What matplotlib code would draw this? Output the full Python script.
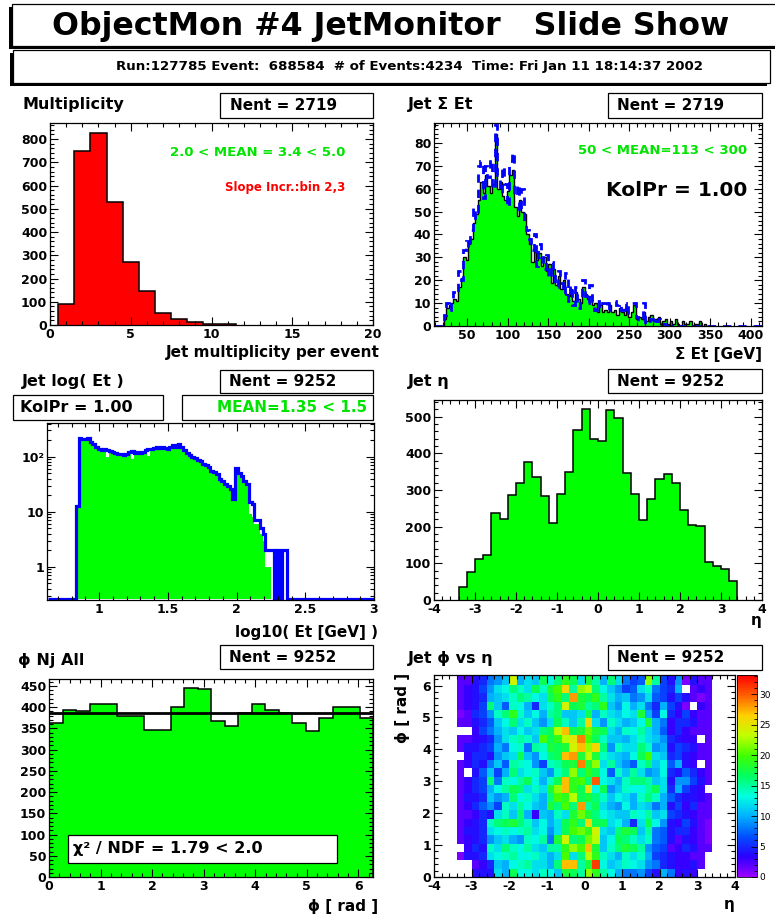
import numpy as np
import matplotlib
matplotlib.use("Agg")
import matplotlib.pyplot as plt
from matplotlib.patches import Rectangle
from matplotlib.colors import LinearSegmentedColormap
from matplotlib.ticker import (MultipleLocator, AutoMinorLocator, FixedLocator,
                               FixedFormatter, LogLocator, NullFormatter, FormatStrFormatter)

plt.rcParams['font.family'] = ['DejaVu Sans']
plt.rcParams['font.weight'] = 'bold'
plt.rcParams['axes.unicode_minus'] = False

W, H = 775, 918
GREEN = '#00ff00'
TEXT_GREEN = '#00e400'

# ---- data ----
# jet multiplicity, bins of 1 starting at 0.5
mult_counts = [90, 750, 825, 528, 272, 148, 53, 25, 12, 5, 3]
mult_first_edge = 0.5

# sum Et, 3 GeV bins starting at 18 GeV (this run and reference)
sumet_first_edge = 18
sumet_width = 3
sumet_counts = [0, 3, 8, 9, 10, 12, 11, 17, 21, 30,
                29, 36, 38, 45, 49, 55, 63, 58, 66, 61,
                58, 62, 84, 60, 63, 57, 55, 59, 66, 68,
                52, 48, 55, 50, 49, 40, 36, 28, 34, 29,
                32, 26, 30, 24, 27, 19, 25, 18, 22, 16,
                20, 14, 13, 16, 11, 15, 12, 10, 17, 14,
                12, 13, 9, 10, 6, 9, 6, 7, 6, 9,
                6, 7, 5, 8, 6, 5, 7, 4, 6, 9,
                3, 4, 3, 6, 2, 4, 5, 2, 3, 4,
                1, 2, 3, 1, 2, 1, 3, 1, 0, 2,
                1, 1, 2, 0, 1, 1, 2, 0, 1, 0]
sumet_ref = [0, 5, 10, 7, 12, 15, 14, 24, 20, 33,
             37, 34, 42, 52, 47, 70, 72, 56, 70, 65,
             73, 60, 88, 66, 58, 70, 62, 52, 72, 76,
             57, 62, 50, 60, 45, 42, 38, 33, 40, 26,
             36, 30, 25, 31, 21, 28, 22, 17, 24, 19,
             14, 23, 11, 18, 9, 17, 8, 12, 20, 13,
             10, 18, 11, 7, 11, 8, 10, 10, 7, 10,
             10, 11, 9, 10, 7, 10, 5, 9, 10, 10,
             4, 2, 3, 10, 1, 2, 3, 1, 2, 3,
             0, 1, 2, 0, 0, 1, 0, 0, 0, 0,
             0, 0, 0, 0, 0, 0, 0, 0, 0, 0]

# log10(Et), 0.02 bins starting at 0.83
loget_first_edge = 0.83
loget_width = 0.02
loget_counts = [13, 215, 210, 204, 220, 186, 170, 148, 136, 132,
                134, 100, 126, 120, 116, 110, 108, 104, 110, 120,
                92, 116, 118, 114, 122, 128, 104, 138, 144, 148,
                144, 148, 140, 136, 148, 160, 148, 166, 146, 128,
                116, 106, 98, 92, 86, 82, 72, 68, 64, 54,
                50, 46, 38, 34, 30, 27, 24, 16, 60, 48,
                42, 35, 30, 9, 8, 6, 6, 4, 3, 1,
                1, 0, 0, 1, 0, 0, 0]
loget_ref = [13, 218, 212, 206, 222, 188, 172, 150, 138, 134,
             136, 130, 128, 122, 118, 112, 110, 106, 112, 122,
             126, 118, 120, 116, 124, 130, 138, 140, 146, 150,
             146, 150, 142, 138, 150, 162, 150, 168, 148, 130,
             118, 108, 100, 94, 88, 84, 74, 70, 66, 56,
             52, 48, 40, 36, 32, 29, 26, 17, 62, 50,
             44, 37, 32, 15, 14, 7, 7, 5, 4, 2,
             2, 2, 0, 2, 0, 2, 2]

# eta, 0.2 bins from -3.4 to 3.4
eta_edges = np.round(np.arange(-3.4, 3.41, 0.2), 2)
eta_counts = [35, 75, 113, 123, 237, 222, 286, 318, 375, 336,
              283, 211, 289, 350, 462, 521, 439, 434, 518, 497,
              345, 290, 218, 276, 329, 344, 318, 244, 205, 202,
              103, 94, 85, 52]

# phi, 24 bins over [0, 2pi]
phi_counts = [362, 393, 390, 407, 407, 378, 378, 347, 347, 399,
              445, 442, 366, 355, 387, 407, 392, 385, 363, 343,
              375, 399, 399, 375]

# phi vs eta occupancy, rows listed from the highest phi bin down
phi_eta_rows = [
    [2, 2, 4, 5, 8, 9, 11, 24, 10, 12, 11, 17, 13, 16, 19, 17, 12, 18, 15, 10, 16, 12, 8, 6, 7, 22, 15, 6, 4, 9, 1, 4, 2, 2],
    [2, 3, 4, 6, 9, 12, 13, 16, 14, 12, 17, 14, 18, 20, 26, 15, 22, 23, 16, 13, 11, 9, 6, 7, 12, 14, 8, 6, 5, 10, 0, 2, 3, 2],
    [2, 3, 4, 5, 10, 11, 12, 14, 16, 15, 13, 12, 17, 19, 16, 28, 18, 17, 19, 15, 12, 10, 11, 8, 9, 12, 7, 6, 4, 6, 4, 2, 1, 2],
    [2, 3, 4, 6, 16, 11, 7, 14, 13, 10, 5, 12, 14, 16, 24, 17, 18, 15, 16, 19, 11, 9, 13, 10, 12, 8, 5, 10, 6, 4, 1, 0, 3, 2],
    [1, 2, 5, 6, 9, 14, 16, 19, 14, 11, 13, 10, 15, 16, 11, 11, 12, 17, 10, 14, 12, 11, 13, 12, 18, 10, 6, 13, 5, 3, 6, 3, 2, 2],
    [2, 2, 4, 5, 7, 11, 13, 16, 12, 14, 11, 9, 12, 17, 14, 11, 15, 26, 12, 9, 14, 12, 10, 11, 13, 18, 10, 8, 3, 5, 5, 4, 2, 2],
    [0, 0, 3, 6, 8, 10, 12, 11, 13, 11, 12, 16, 17, 23, 27, 17, 18, 21, 18, 17, 12, 10, 14, 13, 15, 12, 10, 7, 3, 5, 3, 2, 2, 2],
    [2, 2, 3, 4, 5, 9, 12, 14, 15, 14, 11, 20, 17, 19, 23, 25, 29, 20, 17, 14, 11, 11, 10, 12, 14, 12, 11, 9, 5, 4, 3, 3, 0, 2],
    [2, 4, 4, 5, 6, 10, 8, 13, 14, 8, 15, 14, 18, 17, 18, 24, 27, 22, 26, 16, 9, 14, 12, 12, 16, 14, 9, 10, 4, 6, 5, 4, 2, 2],
    [0, 3, 5, 5, 4, 9, 11, 12, 17, 11, 9, 13, 16, 17, 27, 28, 18, 23, 18, 14, 12, 11, 10, 13, 17, 20, 12, 11, 5, 6, 4, 3, 2, 2],
    [2, 3, 5, 4, 8, 11, 7, 15, 14, 13, 9, 6, 14, 15, 17, 18, 29, 18, 22, 12, 15, 11, 9, 7, 14, 16, 11, 13, 7, 10, 4, 3, 0, 2],
    [2, 0, 4, 7, 11, 6, 10, 16, 12, 13, 14, 11, 9, 14, 16, 22, 16, 19, 17, 13, 7, 14, 11, 15, 12, 9, 10, 13, 5, 4, 7, 5, 3, 2],
    [2, 3, 5, 6, 16, 8, 14, 13, 15, 17, 13, 10, 14, 17, 27, 19, 20, 16, 30, 13, 12, 10, 14, 16, 16, 15, 11, 12, 4, 9, 9, 6, 4, 2],
    [2, 3, 5, 6, 10, 13, 15, 17, 16, 12, 14, 12, 18, 22, 27, 19, 17, 25, 13, 17, 9, 11, 14, 13, 13, 15, 17, 12, 5, 10, 6, 4, 3, 0],
    [2, 4, 4, 5, 11, 9, 10, 16, 13, 14, 12, 10, 16, 20, 19, 23, 17, 18, 16, 14, 11, 13, 12, 10, 14, 16, 14, 10, 7, 5, 4, 4, 3, 2],
    [2, 3, 5, 7, 9, 6, 14, 12, 15, 13, 11, 10, 18, 16, 20, 16, 28, 15, 17, 12, 10, 9, 13, 10, 12, 11, 8, 10, 4, 6, 3, 5, 2, 2],
    [2, 2, 3, 5, 4, 12, 14, 11, 16, 10, 3, 11, 10, 14, 12, 18, 21, 18, 16, 13, 12, 11, 11, 14, 13, 15, 11, 12, 6, 5, 4, 3, 2, 2],
    [2, 3, 4, 5, 14, 16, 17, 18, 16, 14, 11, 13, 10, 12, 17, 19, 16, 26, 17, 17, 12, 13, 10, 5, 12, 17, 13, 9, 4, 3, 6, 4, 2, 1],
    [2, 4, 4, 5, 12, 13, 14, 13, 14, 15, 12, 13, 9, 12, 17, 20, 21, 19, 24, 12, 11, 16, 18, 17, 11, 15, 8, 7, 4, 5, 5, 3, 2, 1],
    [2, 3, 4, 5, 9, 11, 12, 10, 9, 14, 13, 15, 8, 18, 24, 16, 17, 21, 23, 11, 13, 17, 16, 14, 12, 14, 8, 7, 4, 2, 4, 3, 2, 1],
    [0, 3, 5, 4, 14, 12, 16, 14, 13, 15, 12, 11, 15, 15, 19, 22, 20, 27, 18, 11, 14, 16, 18, 17, 15, 9, 7, 6, 2, 3, 5, 4, 2, 2],
    [1, 4, 4, 5, 12, 13, 14, 15, 13, 13, 14, 12, 10, 12, 20, 12, 16, 23, 19, 14, 12, 10, 14, 12, 14, 10, 6, 5, 4, 3, 3, 2, 2, 0],
    [0, 0, 2, 3, 5, 11, 10, 13, 14, 15, 12, 12, 10, 16, 27, 27, 15, 18, 31, 13, 11, 12, 14, 13, 12, 9, 8, 5, 4, 3, 3, 4, 2, 0],
    [0, 0, 4, 4, 4, 12, 10, 17, 13, 13, 12, 14, 13, 11, 18, 17, 15, 22, 19, 15, 13, 10, 8, 8, 9, 6, 4, 10, 8, 3, 4, 3, 0, 0],
]

fig = plt.figure(figsize=(W / 100, H / 100), dpi=100)


def rect(x0, y0, x1, y1):
    return [x0 / W, 1 - y1 / H, (x1 - x0) / W, (y1 - y0) / H]


def label(x, y, s, size=11, ha='left', va='center', color='black', **kw):
    fig.text(x / W, 1 - y / H, s, fontsize=size, ha=ha, va=va, color=color, **kw)


def pave(x0, y0, x1, y1, shadow=0, lw=0.9):
    if shadow:
        fig.add_artist(Rectangle(((x0 - shadow) / W, 1 - (y1 + shadow) / H),
                                 (x1 - x0) / W, (y1 - y0) / H, transform=fig.transFigure,
                                 facecolor='black', lw=0))
    fig.add_artist(Rectangle((x0 / W, 1 - y1 / H), (x1 - x0) / W, (y1 - y0) / H,
                             transform=fig.transFigure, facecolor='white',
                             edgecolor='black', lw=lw))


def frame(ax):
    ax.tick_params(which='both', direction='in', top=True, right=True,
                   width=0.8, labelsize=9, pad=2)
    ax.tick_params(which='major', length=6)
    ax.tick_params(which='minor', length=3)
    for s in ax.spines.values():
        s.set_linewidth(0.9)


# ---- header ----
pave(12, 4, 790, 46, shadow=3)
label(391, 27, 'ObjectMon #4 JetMonitor   Slide Show', size=22.8, ha='center')
pave(13, 50, 770, 83, shadow=3)
label(410, 66.5, 'Run:127785 Event:  688584  # of Events:4234  Time: Fri Jan 11 18:14:37 2002',
      size=9.6, ha='center')

# ---- multiplicity ----
ax1 = fig.add_axes(rect(50, 123, 373, 325))
edges = mult_first_edge + np.arange(len(mult_counts) + 1)
ax1.stairs(mult_counts, edges, fill=True, color='#ff0000')
ax1.stairs(mult_counts, edges, color='black', lw=1.1)
ax1.set_xlim(0, 20)
ax1.set_ylim(0, 869)
ax1.xaxis.set_major_locator(MultipleLocator(5))
ax1.xaxis.set_minor_locator(MultipleLocator(1))
ax1.yaxis.set_major_locator(MultipleLocator(100))
ax1.yaxis.set_minor_locator(AutoMinorLocator(5))
frame(ax1)
label(22, 104, 'Multiplicity', size=11.5)
pave(220, 93, 373, 118)
label(230, 105.5, 'Nent = 2719', size=11)
label(345, 152, '2.0 < MEAN = 3.4 < 5.0', size=9.5, ha='right', color=TEXT_GREEN)
label(345, 187, 'Slope Incr.:bin 2,3', size=8.5, ha='right', color='#ff0000')
label(380, 353, 'Jet multiplicity per event', size=11, ha='right')

# ---- sum Et ----
ax2 = fig.add_axes(rect(434, 123, 762, 326))
edges = sumet_first_edge + sumet_width * np.arange(len(sumet_counts) + 1)
ax2.stairs(sumet_counts, edges, fill=True, color=GREEN)
ax2.stairs(sumet_counts, edges, color='black', lw=1.0)
ref_full = np.concatenate([np.zeros(3), sumet_ref, np.zeros(22)])
ref_edges = sumet_first_edge - 3 * sumet_width + sumet_width * np.arange(len(ref_full) + 1)
ax2.stairs(ref_full, ref_edges, color='#0000ff', lw=2.0, linestyle=(0, (3, 2.5)))
ax2.set_xlim(9, 414)
ax2.set_ylim(0, 88.7)
ax2.xaxis.set_major_locator(MultipleLocator(50))
ax2.xaxis.set_minor_locator(MultipleLocator(10))
ax2.yaxis.set_major_locator(MultipleLocator(10))
ax2.yaxis.set_minor_locator(MultipleLocator(2))
frame(ax2)
label(408, 104, 'Jet Σ Et', size=11.5)
pave(608, 93, 762, 118)
label(617, 105.5, 'Nent = 2719', size=11)
label(747, 150, '50 < MEAN=113 < 300', size=9.5, ha='right', color=TEXT_GREEN)
label(747, 190, 'KolPr = 1.00', size=14.5, ha='right')
label(762, 354, 'Σ Et [GeV]', size=11, ha='right')

# ---- log10 Et ----
ax3 = fig.add_axes(rect(47, 423, 374, 600))
edges = loget_first_edge + loget_width * np.arange(len(loget_counts) + 1)
floor = 0.265
ax3.stairs(np.maximum(loget_counts, floor), edges, fill=True, color=GREEN, baseline=floor)
ref_full = np.concatenate([np.zeros(10), loget_ref, np.zeros(32)])
ref_edges = loget_first_edge - 10 * loget_width + loget_width * np.arange(len(ref_full) + 1)
ax3.stairs(np.maximum(ref_full, floor), ref_edges, color='#0000ff', lw=2.3, baseline=None)
ax3.set_yscale('log')
ax3.set_xlim(0.62, 3.0)
ax3.set_ylim(0.25, 410)
ax3.xaxis.set_major_locator(MultipleLocator(0.5))
ax3.xaxis.set_minor_locator(MultipleLocator(0.1))
ax3.xaxis.set_major_formatter(FormatStrFormatter('%g'))
ax3.yaxis.set_major_locator(FixedLocator([1, 10, 100]))
ax3.yaxis.set_major_formatter(FixedFormatter(['1', '10', '10²']))
ax3.yaxis.set_minor_locator(LogLocator(subs=np.arange(2, 10)))
ax3.yaxis.set_minor_formatter(NullFormatter())
frame(ax3)
label(22, 382, 'Jet log( Et )', size=11.5)
pave(220, 370, 373, 393)
label(229, 381.5, 'Nent = 9252', size=11)
pave(13, 395, 163, 420)
label(20, 407.5, 'KolPr = 1.00', size=11.5)
pave(182, 395, 373, 420)
label(367, 407.5, 'MEAN=1.35 < 1.5', size=11, ha='right', color=TEXT_GREEN)
label(378, 633, 'log10( Et [GeV] )', size=11, ha='right')

# ---- eta ----
ax4 = fig.add_axes(rect(434, 400, 762, 600))
ax4.stairs(eta_counts, eta_edges, fill=True, color=GREEN)
ax4.stairs(eta_counts, eta_edges, color='black', lw=1.1)
ax4.set_xlim(-4, 4)
ax4.set_ylim(0, 545)
ax4.xaxis.set_major_locator(MultipleLocator(1))
ax4.xaxis.set_minor_locator(MultipleLocator(0.2))
ax4.yaxis.set_major_locator(MultipleLocator(100))
ax4.yaxis.set_minor_locator(MultipleLocator(20))
frame(ax4)
label(408, 382, 'Jet η', size=11.5)
pave(608, 369, 762, 393)
label(617, 381, 'Nent = 9252', size=11)
label(762, 621, 'η', size=11, ha='right')

# ---- phi ----
ax5 = fig.add_axes(rect(49, 679, 373, 877))
phi_edges = np.linspace(0, 2 * np.pi, len(phi_counts) + 1)
ax5.stairs(phi_counts, phi_edges, fill=True, color=GREEN)
ax5.stairs(phi_counts, phi_edges, color='black', lw=1.1)
ax5.axhline(np.mean(phi_counts), color='black', lw=2.0)
ax5.set_xlim(0, 2 * np.pi)
ax5.set_ylim(0, 466)
ax5.xaxis.set_major_locator(MultipleLocator(1))
ax5.xaxis.set_minor_locator(MultipleLocator(0.2))
ax5.yaxis.set_major_locator(MultipleLocator(50))
ax5.yaxis.set_minor_locator(MultipleLocator(10))
frame(ax5)
label(18, 660, 'ϕ Nj All', size=11.5)
pave(220, 645, 373, 669)
label(229, 657, 'Nent = 9252', size=11)
pave(68, 835, 337, 863)
label(73, 849, 'χ² / NDF = 1.79 < 2.0', size=11.5)
label(378, 907, 'ϕ [ rad ]', size=11, ha='right')

# ---- phi vs eta ----
ax6 = fig.add_axes(rect(434, 675, 735, 877))
counts = np.array(phi_eta_rows[::-1], dtype=float)
cells = np.ma.masked_where(counts <= 0, counts)
palette = LinearSegmentedColormap.from_list(
    'rootpal', ['#9a00ff', '#2a00ff', '#0050ff', '#00b0ff', '#00ffe0',
                '#00ff60', '#40ff00', '#c0ff00', '#ffd000', '#ff6000', '#ff0000'])
vmax = counts.max() * 1.07
mesh = ax6.pcolormesh(eta_edges, np.linspace(0, 2 * np.pi, counts.shape[0] + 1), cells,
                      cmap=palette, vmin=0, vmax=vmax)
ax6.set_xlim(-4, 4)
ax6.set_ylim(0, 6.33)
ax6.xaxis.set_major_locator(MultipleLocator(1))
ax6.xaxis.set_minor_locator(MultipleLocator(0.2))
ax6.yaxis.set_major_locator(MultipleLocator(1))
ax6.yaxis.set_minor_locator(MultipleLocator(0.2))
frame(ax6)
cax = fig.add_axes(rect(737, 675, 757, 877))
cb = fig.colorbar(mesh, cax=cax)
cb.outline.set_linewidth(0.6)
cax.yaxis.set_major_locator(MultipleLocator(5))
cax.yaxis.set_minor_locator(MultipleLocator(1))
cax.tick_params(which='both', direction='in', width=0.6, labelsize=6.5, pad=2)
cax.tick_params(which='major', length=4)
cax.tick_params(which='minor', length=2)
for t in cax.get_yticklabels():
    t.set_fontweight('normal')
label(408, 658, 'Jet ϕ vs η', size=11.5)
pave(608, 645, 762, 670)
label(617, 657.5, 'Nent = 9252', size=11)
label(735, 905, 'η', size=11, ha='right')
label(402, 673, 'ϕ [ rad ]', size=11, ha='center', va='top', rotation=90)

fig.savefig('out.png', dpi=100)
